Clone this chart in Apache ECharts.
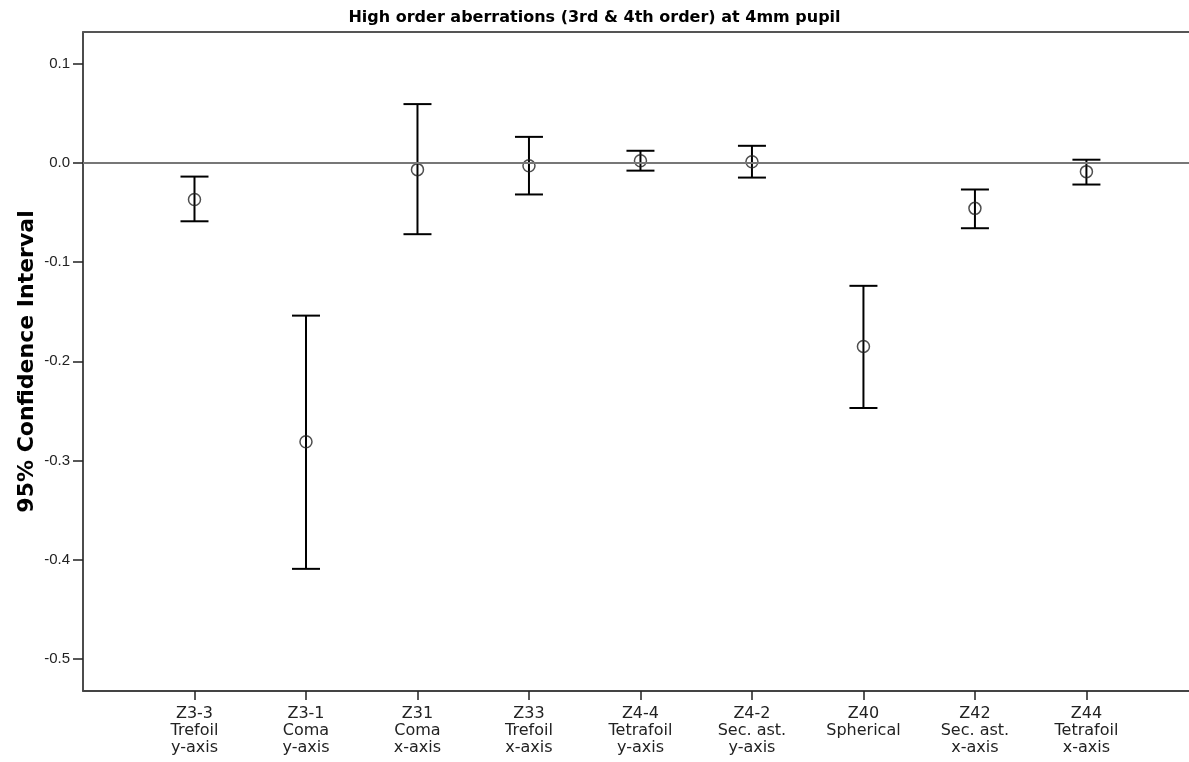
<!DOCTYPE html>
<html>
<head>
<meta charset="utf-8">
<title>High order aberrations</title>
<script src="https://cdn.jsdelivr.net/npm/echarts@6/dist/echarts.min.js"></script>
<style>
  html, body { margin: 0; padding: 0; background: #fff; }
  #chart { width: 1189px; height: 762px; }
</style>
</head>
<body>
<div id="chart"></div>
<script>
// Zernike terms (code / name / orientation), one per column
const codes = ['Z3-3', 'Z3-1', 'Z31', 'Z33', 'Z4-4', 'Z4-2', 'Z40', 'Z42', 'Z44'];
const names = ['Trefoil', 'Coma', 'Coma', 'Trefoil', 'Tetrafoil', 'Sec. ast.', 'Spherical', 'Sec. ast.', 'Tetrafoil'];
const orientations = ['y-axis', 'y-axis', 'x-axis', 'x-axis', 'y-axis', 'y-axis', '', 'x-axis', 'x-axis'];

// Mean and 95% confidence limits
const means = [-0.037, -0.281, -0.007, -0.003, 0.002, 0.001, -0.185, -0.046, -0.009];
const upper = [-0.014, -0.154, 0.059, 0.026, 0.012, 0.017, -0.124, -0.027, 0.003];
const lower = [-0.059, -0.409, -0.072, -0.032, -0.008, -0.015, -0.247, -0.066, -0.022];

// Y axis ticks
const yTicks = [-0.5, -0.4, -0.3, -0.2, -0.1, 0.0, 0.1];

const positions = codes.map((_, i) => i + 1);
const labels = codes.map((c, i) => [c, names[i], orientations[i]].filter(s => s).join('\n'));

const chart = echarts.init(document.getElementById('chart'), null, { renderer: 'canvas' });

chart.setOption({
  animation: false,
  backgroundColor: '#ffffff',
  title: {
    text: 'High order aberrations (3rd & 4th order) at 4mm pupil',
    left: 'center',
    top: 5,
    textStyle: { fontFamily: 'DejaVu Sans', fontWeight: 'bold', fontSize: 16, color: '#000' }
  },
  grid: { left: 83, top: 32, right: 0, bottom: 71 },
  xAxis: [
    {
      type: 'value',
      min: 0, max: 9.92,
      axisLine: { onZero: false, lineStyle: { color: '#444', width: 2 } },
      axisTick: { customValues: positions, length: 9, lineStyle: { color: '#222', width: 1.5 } },
      axisLabel: {
        customValues: positions,
        formatter: v => labels[Math.round(v) - 1] || '',
        fontFamily: 'DejaVu Sans', fontSize: 16, lineHeight: 17, color: '#222', margin: 14
      },
      splitLine: { show: false }
    },
    {
      // top frame line
      type: 'value',
      position: 'top',
      min: 0, max: 9.92,
      axisLine: { onZero: false, lineStyle: { color: '#555', width: 2 } },
      axisTick: { show: false },
      axisLabel: { show: false },
      splitLine: { show: false }
    }
  ],
  yAxis: {
    type: 'value',
    min: -0.532, max: 0.1316,
    name: '95% Confidence Interval',
    nameLocation: 'middle',
    nameGap: 45,
    nameMoveOverlap: false,
    nameTextStyle: { fontFamily: 'DejaVu Sans', fontWeight: 'bold', fontSize: 22, color: '#000' },
    axisLine: { onZero: false, lineStyle: { color: '#111', width: 1.5 } },
    axisTick: { customValues: yTicks, length: 10, lineStyle: { color: '#222', width: 1.5 } },
    axisLabel: {
      customValues: yTicks,
      formatter: v => v.toFixed(1),
      fontFamily: 'Liberation Sans', fontSize: 15, color: '#222', margin: 13
    },
    splitLine: { show: false }
  },
  series: [
    {
      // confidence interval whiskers with caps
      type: 'custom',
      data: positions.map((x, i) => [x, lower[i], upper[i]]),
      encode: { x: 0, y: [1, 2] },
      renderItem: (params, api) => {
        const x = api.value(0);
        const lo = api.coord([x, api.value(1)]);
        const hi = api.coord([x, api.value(2)]);
        const half = 14;
        const style = { stroke: '#000', lineWidth: 2 };
        return {
          type: 'group',
          children: [
            { type: 'line', shape: { x1: lo[0], y1: lo[1], x2: hi[0], y2: hi[1] }, style },
            { type: 'line', shape: { x1: hi[0] - half, y1: hi[1], x2: hi[0] + half, y2: hi[1] }, style },
            { type: 'line', shape: { x1: lo[0] - half, y1: lo[1], x2: lo[0] + half, y2: lo[1] }, style }
          ]
        };
      },
      z: 3
    },
    {
      // means
      type: 'scatter',
      data: positions.map((x, i) => [x, means[i]]),
      symbol: 'circle',
      symbolSize: 12,
      itemStyle: { color: 'rgba(0,0,0,0)', borderColor: '#222', borderWidth: 1.5 },
      markLine: {
        silent: true,
        symbol: 'none',
        label: { show: false },
        lineStyle: { color: '#777', width: 2, type: 'solid' },
        data: [{ yAxis: 0 }]
      },
      z: 4
    }
  ]
});
</script>
</body>
</html>
